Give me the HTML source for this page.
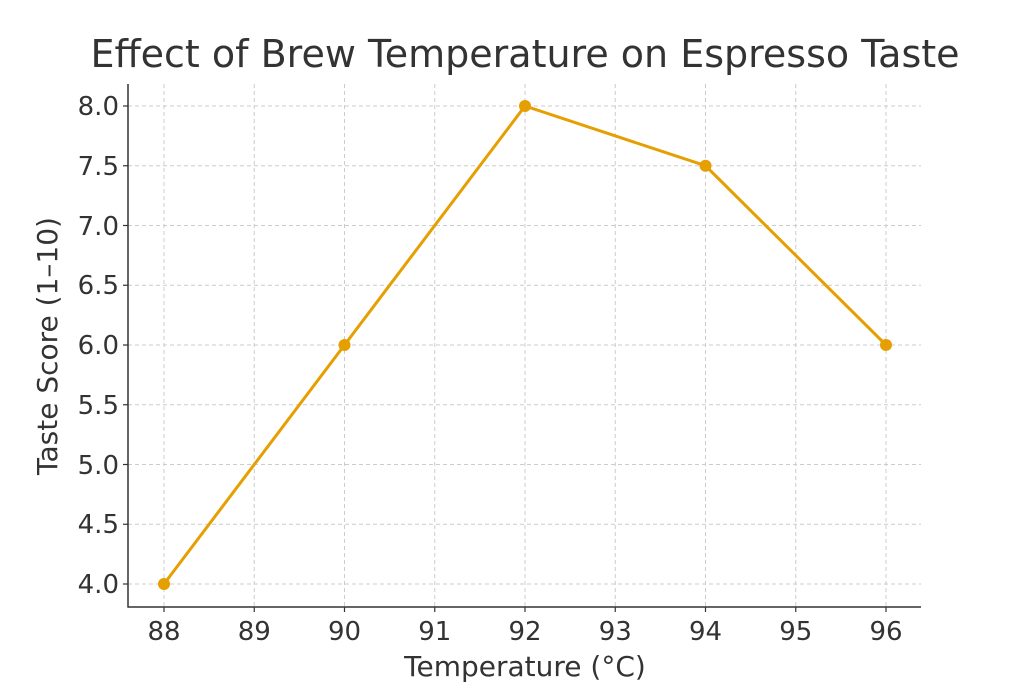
<!DOCTYPE html>
<html><head><meta charset="utf-8"><style>
body{margin:0;background:#fff}
svg{display:block}
text{font-family:"DejaVu Sans","Liberation Sans",sans-serif;fill:#333}
</style></head><body>
<svg width="1024" height="683" viewBox="0 0 1024 683" xmlns="http://www.w3.org/2000/svg">
<rect width="1024" height="683" fill="#fff"/>
<g stroke="#ccc" stroke-width="1" stroke-dasharray="4,3">
<line x1="164" y1="84" x2="164" y2="607"/><line x1="254.25" y1="84" x2="254.25" y2="607"/>
<line x1="344.5" y1="84" x2="344.5" y2="607"/><line x1="434.75" y1="84" x2="434.75" y2="607"/>
<line x1="525" y1="84" x2="525" y2="607"/><line x1="615.25" y1="84" x2="615.25" y2="607"/>
<line x1="705.5" y1="84" x2="705.5" y2="607"/><line x1="795.75" y1="84" x2="795.75" y2="607"/>
<line x1="886" y1="84" x2="886" y2="607"/>
<line x1="128" y1="106" x2="921" y2="106"/><line x1="128" y1="165.75" x2="921" y2="165.75"/>
<line x1="128" y1="225.5" x2="921" y2="225.5"/><line x1="128" y1="285.25" x2="921" y2="285.25"/>
<line x1="128" y1="345" x2="921" y2="345"/><line x1="128" y1="404.75" x2="921" y2="404.75"/>
<line x1="128" y1="464.5" x2="921" y2="464.5"/><line x1="128" y1="524.25" x2="921" y2="524.25"/>
<line x1="128" y1="584" x2="921" y2="584"/>
</g>
<g stroke="#333" stroke-width="1.5">
<line x1="128" y1="84" x2="128" y2="607.5"/><line x1="127.5" y1="607" x2="921" y2="607"/>
</g>
<g stroke="#333" stroke-width="1.2">
<line x1="164" y1="607" x2="164" y2="612"/><line x1="254.25" y1="607" x2="254.25" y2="612"/>
<line x1="344.5" y1="607" x2="344.5" y2="612"/><line x1="434.75" y1="607" x2="434.75" y2="612"/>
<line x1="525" y1="607" x2="525" y2="612"/><line x1="615.25" y1="607" x2="615.25" y2="612"/>
<line x1="705.5" y1="607" x2="705.5" y2="612"/><line x1="795.75" y1="607" x2="795.75" y2="612"/>
<line x1="886" y1="607" x2="886" y2="612"/>
<line x1="123" y1="106" x2="128" y2="106"/><line x1="123" y1="165.75" x2="128" y2="165.75"/>
<line x1="123" y1="225.5" x2="128" y2="225.5"/><line x1="123" y1="285.25" x2="128" y2="285.25"/>
<line x1="123" y1="345" x2="128" y2="345"/><line x1="123" y1="404.75" x2="128" y2="404.75"/>
<line x1="123" y1="464.5" x2="128" y2="464.5"/><line x1="123" y1="524.25" x2="128" y2="524.25"/>
<line x1="123" y1="584" x2="128" y2="584"/>
</g>
<g font-size="26" text-anchor="middle">
<text x="164" y="640">88</text><text x="254.25" y="640">89</text><text x="344.5" y="640">90</text>
<text x="434.75" y="640">91</text><text x="525" y="640">92</text><text x="615.25" y="640">93</text>
<text x="705.5" y="640">94</text><text x="795.75" y="640">95</text><text x="886" y="640">96</text>
</g>
<g font-size="26" text-anchor="end">
<text x="119" y="115">8.0</text><text x="119" y="175">7.5</text><text x="119" y="235">7.0</text>
<text x="119" y="294">6.5</text><text x="119" y="354">6.0</text><text x="119" y="414">5.5</text>
<text x="119" y="474">5.0</text><text x="119" y="533">4.5</text><text x="119" y="593">4.0</text>
</g>
<text x="525" y="676" font-size="28" text-anchor="middle">Temperature (°C)</text>
<text transform="translate(57,346) rotate(-90)" font-size="28" text-anchor="middle">Taste Score (1–10)</text>
<text x="525" y="67" font-size="38" text-anchor="middle">Effect of Brew Temperature on Espresso Taste</text>
<polyline points="164,584 344.5,345 525,106 705.5,165.75 886,345" fill="none" stroke="#E69F00" stroke-width="3"/>
<g fill="#E69F00">
<circle cx="164" cy="584" r="6"/><circle cx="344.5" cy="345" r="6"/><circle cx="525" cy="106" r="6"/>
<circle cx="705.5" cy="165.75" r="6"/><circle cx="886" cy="345" r="6"/>
</g>
</svg>
</body></html>
